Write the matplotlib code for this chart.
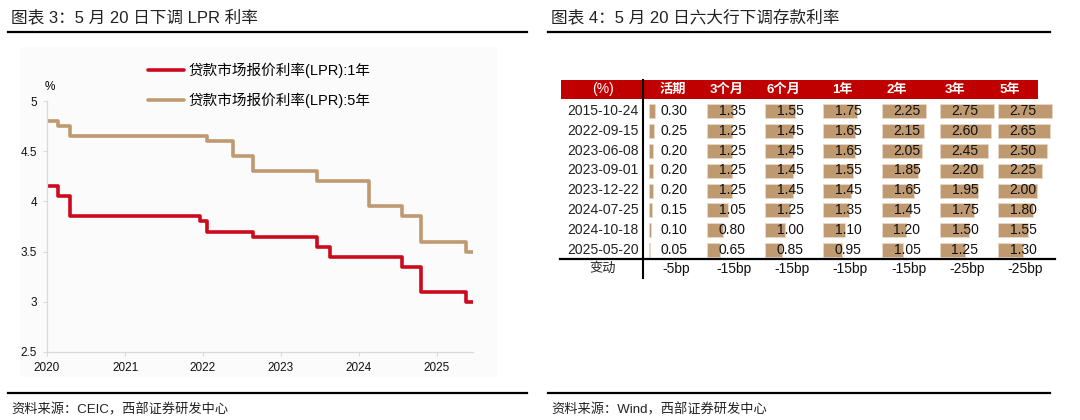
import numpy as np
import matplotlib
matplotlib.use("Agg")
import matplotlib.pyplot as plt
import matplotlib.dates as mdates
from matplotlib.patches import Rectangle

plt.rcParams['font.family'] = ['Liberation Sans', 'Noto Sans CJK SC']

# ---- left chart: LPR (change dates, value after change)
lpr1_dates = ['2020-01-01', '2020-02-20', '2020-04-20', '2021-12-20', '2022-01-20',
              '2022-08-22', '2023-06-20', '2023-08-21', '2024-07-22', '2024-10-21',
              '2025-05-20', '2025-06-20']
lpr1_vals = [4.15, 4.05, 3.85, 3.80, 3.70, 3.65, 3.55, 3.45, 3.35, 3.10, 3.00, 3.00]
lpr5_dates = ['2020-01-01', '2020-02-20', '2020-04-20', '2022-01-20', '2022-05-20',
              '2022-08-22', '2023-06-20', '2024-02-20', '2024-07-22', '2024-10-21',
              '2025-05-20', '2025-06-20']
lpr5_vals = [4.80, 4.75, 4.65, 4.60, 4.45, 4.30, 4.20, 3.95, 3.85, 3.60, 3.50, 3.50]
lpr_labels = ['贷款市场报价利率(LPR):1年', '贷款市场报价利率(LPR):5年']

# ---- right table: deposit rates of big six banks
adj_dates = ['2015-10-24', '2022-09-15', '2023-06-08', '2023-09-01',
             '2023-12-22', '2024-07-25', '2024-10-18', '2025-05-20']
terms = ['活期', '3个月', '6个月', '1年', '2年', '3年', '5年']
r_demand = [0.30, 0.25, 0.20, 0.20, 0.20, 0.15, 0.10, 0.05]
r_3m = [1.35, 1.25, 1.25, 1.25, 1.25, 1.05, 0.80, 0.65]
r_6m = [1.55, 1.45, 1.45, 1.45, 1.45, 1.25, 1.00, 0.85]
r_1y = [1.75, 1.65, 1.65, 1.55, 1.45, 1.35, 1.10, 0.95]
r_2y = [2.25, 2.15, 2.05, 1.85, 1.65, 1.45, 1.20, 1.05]
r_3y = [2.75, 2.60, 2.45, 2.20, 1.95, 1.75, 1.50, 1.25]
r_5y = [2.75, 2.65, 2.50, 2.25, 2.00, 1.80, 1.55, 1.30]
changes = ['-5bp', '-15bp', '-15bp', '-15bp', '-15bp', '-25bp', '-25bp']

RED = '#CC0A1E'
TAN = '#BF9A70'

fig = plt.figure(figsize=(10.8, 4.2), dpi=100)

# overlay in pixel coordinates for titles, rules and the table
ov = fig.add_axes([0, 0, 1, 1])
ov.set_xlim(0, 1080)
ov.set_ylim(420, 0)
ov.axis('off')

for x0, x1, title, src in [(8, 527, '图表 3：5 月 20 日下调 LPR 利率', '资料来源：CEIC，西部证券研发中心'),
                           (548, 1050, '图表 4：5 月 20 日六大行下调存款利率', '资料来源：Wind，西部证券研发中心')]:
    ov.text(x0 + 3, 17, title, fontsize=12, color='#222222', va='center', ha='left')
    ov.plot([x0, x1], [32, 32], color='black', lw=1.6)
    ov.plot([x0, x1], [393, 393], color='black', lw=1.6)
    ov.text(x0 + 3, 410, src, fontsize=9.5, color='#222222', va='center', ha='left')

ov.add_patch(Rectangle((20, 47), 477, 330, color='#fbfbfb', lw=0))

# ---- left chart
ax = fig.add_axes([47 / 1080, 1 - 352 / 420, (473 - 47) / 1080, (352 - 101) / 420])
ax.patch.set_alpha(0)
d1 = np.array(lpr1_dates, dtype='datetime64[D]')
d5 = np.array(lpr5_dates, dtype='datetime64[D]')
l1, = ax.step(d1, lpr1_vals, where='post', color=RED, lw=2.6,
              solid_capstyle='round', solid_joinstyle='round')
l5, = ax.step(d5, lpr5_vals, where='post', color=TAN, lw=2.6,
              solid_capstyle='round', solid_joinstyle='round')
ax.set_ylim(2.5, 5)
ax.set_xlim(d1[0], d1[-1])
ax.set_yticks([2.5, 3, 3.5, 4, 4.5, 5])
ax.set_yticklabels(['2.5', '3', '3.5', '4', '4.5', '5'])
ax.xaxis.set_major_locator(mdates.YearLocator())
ax.xaxis.set_major_formatter(mdates.DateFormatter('%Y'))
for s in ['top', 'right']:
    ax.spines[s].set_visible(False)
for s in ['left', 'bottom']:
    ax.spines[s].set_color('#d9d9d9')
    ax.spines[s].set_linewidth(0.9)
ax.tick_params(axis='both', labelsize=8.5, colors='#d9d9d9', labelcolor='#111111', length=3, width=0.8)
ax.tick_params(axis='x', pad=4)
ax.tick_params(axis='y', pad=4)
ax.text(-0.005, 1.03, '%', transform=ax.transAxes, fontsize=8.5, ha='left', va='bottom')

fig.legend([l1, l5], lpr_labels, loc='upper left', bbox_to_anchor=(148 / 1080, 1 - 63 / 420),
           frameon=False, fontsize=10.5, handlelength=2.5, handletextpad=0.3,
           labelspacing=0.95, borderpad=0, borderaxespad=0)

# ---- right table
row_y = np.array([111, 131, 151, 170.5, 190.5, 210, 230, 249.5])
col_start = [649, 707, 765, 823, 882, 940, 998]
head_x = [673, 727, 783, 842, 897, 955, 1010]
px_per_pct = 19.6
cols = [r_demand, r_3m, r_6m, r_1y, r_2y, r_3y, r_5y]

ov.add_patch(Rectangle((561, 80), 477, 19, color='#C00000', lw=0))
ov.text(603, 89.5, '(%)', color='white', fontsize=10, ha='center', va='center')
for hx, t in zip(head_x, terms):
    ov.text(hx, 89.5, t, color='white', fontsize=9.5, ha='center', va='center', fontweight='bold')

for y, d in zip(row_y, adj_dates):
    ov.text(603, y, d, fontsize=10, color='#222222', ha='center', va='center')

for x0, vals in zip(col_start, cols):
    ov.barh(row_y, np.array(vals) * px_per_pct, left=x0, height=14,
            color=TAN, edgecolor='#e8d8c6', linewidth=0.6)
    for y, v in zip(row_y, vals):
        ov.text(x0 + 25, y, '%.2f' % v, fontsize=10, color='#111111', ha='center', va='center')

ov.plot([643, 643], [80, 278], color='black', lw=1.5)
ov.plot([560, 1055], [259, 259], color='black', lw=1.6)
ov.text(603, 269, '变动', fontsize=9.5, color='#222222', ha='center', va='center')
for x0, c in zip(col_start, changes):
    ov.text(x0 + 27, 269, c, fontsize=10, color='#111111', ha='center', va='center')

fig.savefig('out.png', dpi=100)
